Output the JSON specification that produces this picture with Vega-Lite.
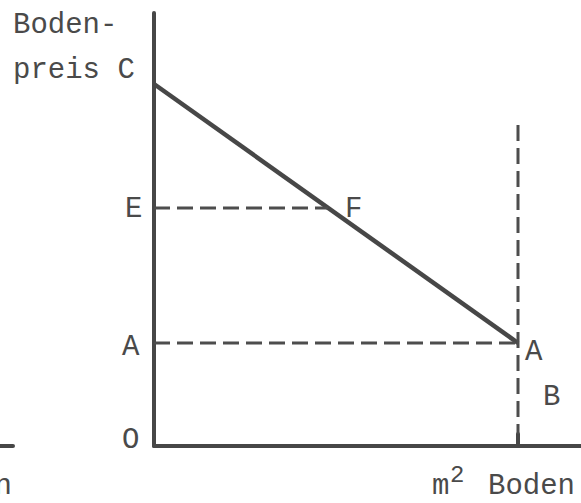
{
  "$schema": "https://vega.github.io/schema/vega-lite/v6.json",
  "width": 581,
  "height": 503,
  "padding": 0,
  "autosize": {"type": "none"},
  "background": "white",
  "config": {"view": {"stroke": null}},
  "datasets": {
    "axes": [
      {"name": "price", "x": 0, "y": 0, "x2": 0, "y2": 433},
      {"name": "quantity", "x": 0, "y": 0, "x2": 427, "y2": 0},
      {"name": "stub", "x": -154, "y": 0, "x2": -141, "y2": 0},
      {"name": "Btick", "x": 364, "y": 0, "x2": 364, "y2": 12}
    ],
    "demand": [
      {"name": "CA", "x": 0, "y": 362, "x2": 364, "y2": 103}
    ],
    "dashed": [
      {"name": "EF", "x": 0, "y": 238, "x2": 174, "y2": 238},
      {"name": "AA", "x": 0, "y": 103, "x2": 364, "y2": 103},
      {"name": "B", "x": 364, "y": 321, "x2": 364, "y2": 12}
    ],
    "labels": [
      {"label": "Boden-", "x": -141, "y": 413},
      {"label": "preis C", "x": -141, "y": 368},
      {"label": "E", "x": -29, "y": 229},
      {"label": "F", "x": 191, "y": 229},
      {"label": "A", "x": -32, "y": 91},
      {"label": "O", "x": -32, "y": -2},
      {"label": "A", "x": 371, "y": 86},
      {"label": "B", "x": 389, "y": 41},
      {"label": "m", "x": 278, "y": -48},
      {"label": "Boden", "x": 334, "y": -48}
    ],
    "sup": [
      {"label": "2", "x": 296, "y": -36}
    ],
    "cut": [
      {"label": "n", "x": -142, "y": -48}
    ]
  },
  "layer": [
    {
      "data": {"name": "axes"},
      "mark": {"type": "rule", "color": "#474747", "strokeWidth": 4, "strokeCap": "round"},
      "encoding": {
        "x": {"field": "x", "type": "quantitative", "scale": {"domain": [-154, 427], "nice": false, "zero": false}, "axis": null},
        "y": {"field": "y", "type": "quantitative", "scale": {"domain": [-57, 446], "nice": false, "zero": false}, "axis": null},
        "x2": {"field": "x2"},
        "y2": {"field": "y2"}
      }
    },
    {
      "data": {"name": "demand"},
      "mark": {"type": "rule", "color": "#474747", "strokeWidth": 4.5},
      "encoding": {
        "x": {"field": "x", "type": "quantitative", "scale": {"domain": [-154, 427], "nice": false, "zero": false}, "axis": null},
        "y": {"field": "y", "type": "quantitative", "scale": {"domain": [-57, 446], "nice": false, "zero": false}, "axis": null},
        "x2": {"field": "x2"},
        "y2": {"field": "y2"}
      }
    },
    {
      "data": {"name": "dashed"},
      "mark": {"type": "rule", "color": "#4d4d4d", "strokeWidth": 3, "strokeDash": [16, 7]},
      "encoding": {
        "x": {"field": "x", "type": "quantitative", "scale": {"domain": [-154, 427], "nice": false, "zero": false}, "axis": null},
        "y": {"field": "y", "type": "quantitative", "scale": {"domain": [-57, 446], "nice": false, "zero": false}, "axis": null},
        "x2": {"field": "x2"},
        "y2": {"field": "y2"}
      }
    },
    {
      "data": {"name": "labels"},
      "mark": {"type": "text", "font": "Liberation Mono", "fontSize": 29, "align": "left", "baseline": "alphabetic", "color": "#4a4a4a"},
      "encoding": {
        "x": {"field": "x", "type": "quantitative", "scale": {"domain": [-154, 427], "nice": false, "zero": false}, "axis": null},
        "y": {"field": "y", "type": "quantitative", "scale": {"domain": [-57, 446], "nice": false, "zero": false}, "axis": null},
        "text": {"field": "label"}
      }
    },
    {
      "data": {"name": "sup"},
      "mark": {"type": "text", "font": "Liberation Mono", "fontSize": 24, "align": "left", "baseline": "alphabetic", "color": "#4a4a4a"},
      "encoding": {
        "x": {"field": "x", "type": "quantitative", "scale": {"domain": [-154, 427], "nice": false, "zero": false}, "axis": null},
        "y": {"field": "y", "type": "quantitative", "scale": {"domain": [-57, 446], "nice": false, "zero": false}, "axis": null},
        "text": {"field": "label"}
      }
    },
    {
      "data": {"name": "cut"},
      "mark": {"type": "text", "font": "Liberation Mono", "fontSize": 29, "align": "right", "baseline": "alphabetic", "color": "#4a4a4a"},
      "encoding": {
        "x": {"field": "x", "type": "quantitative", "scale": {"domain": [-154, 427], "nice": false, "zero": false}, "axis": null},
        "y": {"field": "y", "type": "quantitative", "scale": {"domain": [-57, 446], "nice": false, "zero": false}, "axis": null},
        "text": {"field": "label"}
      }
    }
  ]
}
